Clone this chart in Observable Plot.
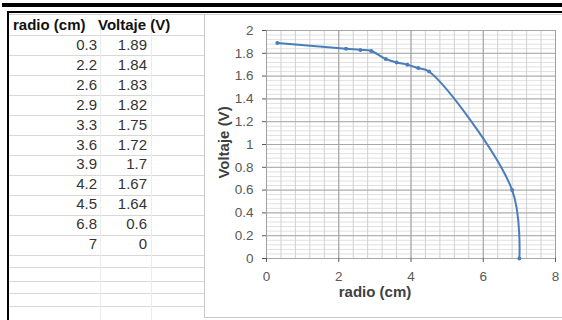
<!DOCTYPE html>
<html><head><meta charset="utf-8">
<script src="https://cdn.jsdelivr.net/npm/d3@7"></script>
<script src="https://cdn.jsdelivr.net/npm/@observablehq/plot@0.6"></script>
<style>
html,body{margin:0;padding:0;background:#fff;}
#page{position:relative;width:562px;height:320px;overflow:hidden;font-family:Arial,"Liberation Sans",sans-serif;background:#fff;}
.abs{position:absolute;}
.hd{font-weight:bold;font-size:15px;color:#111;line-height:16px;white-space:nowrap;}
.num{font-size:15px;color:#333;text-align:right;width:60px;line-height:16px;}
</style></head>
<body><div id="page"></div>
<script>
const radio = [0.3, 2.2, 2.6, 2.9, 3.3, 3.6, 3.9, 4.2, 4.5, 6.8, 7];
const voltaje = [1.89, 1.84, 1.83, 1.82, 1.75, 1.72, 1.7, 1.67, 1.64, 0.6, 0];
const headers = ["radio (cm)", "Voltaje (V)"];
const xTicks = [0, 2, 4, 6, 8];
const yTicks = [0, 0.2, 0.4, 0.6, 0.8, 1, 1.2, 1.4, 1.6, 1.8, 2];
const xLabel = "radio (cm)";
const yLabel = "Voltaje (V)";

const page = document.getElementById("page");
function box(css, cls, text) {
  const d = document.createElement("div");
  d.className = "abs" + (cls ? " " + cls : "");
  d.style.cssText = css;
  if (text !== undefined) d.textContent = text;
  page.appendChild(d);
  return d;
}

// spreadsheet frame lines
box("left:2px;top:3px;width:560px;height:4px;background:#000;");
box("left:7px;top:11px;width:555px;height:2px;background:#000;");
box("left:7px;top:11px;width:2px;height:309px;background:#000;");
box("left:9px;top:14px;width:553px;height:1px;background:#d0d0d0;");

// row lines
const rowLines = [];
for (let i = 0; i <= 11; i++) rowLines.push(35 + 20 * i);
[267, 281, 293, 306].forEach(v => rowLines.push(v));
rowLines.forEach(y => box(`left:9px;top:${y}px;width:196px;height:1px;background:#d8d8d8;`));
[100, 151].forEach(x => box(`left:${x}px;top:15px;width:1px;height:305px;background:#ececec;`));

// header + values
box("left:13px;top:17px;", "hd", headers[0]);
box("left:98px;top:17px;", "hd", headers[1]);
radio.forEach((r, i) => {
  const cy = 45 + 19.9 * i;
  box(`left:${97 - 60}px;top:${cy - 8}px;`, "num", String(r));
  box(`left:${147 - 60}px;top:${cy - 8}px;`, "num", String(voltaje[i]));
});

// chart box
box("left:204px;top:15px;width:358px;height:302px;background:#fff;border-left:1px solid #c8c8c8;border-bottom:1px solid #c8c8c8;");

const data = radio.map((r, i) => ({radio: r, voltaje: voltaje[i]}));
const minorX = d3.range(0, 8.001, 0.4);
const minorY = d3.range(0, 2.0001, 0.04);

const chart = Plot.plot({
  width: 357, height: 302,
  marginLeft: 61, marginRight: 7, marginTop: 15, marginBottom: 59,
  style: {fontFamily: 'Arial, "Liberation Sans", sans-serif', fontSize: "13.5px", background: "transparent", color: "#595959", overflow: "visible"},
  x: {domain: [0, 8]},
  y: {domain: [0, 2]},
  marks: [
    Plot.ruleY(minorY, {stroke: "#e0e0e0"}),
    Plot.ruleX(minorX, {stroke: "#d0d0d0"}),
    Plot.ruleY(yTicks, {stroke: "#a8a8a8"}),
    Plot.ruleX(xTicks, {stroke: "#a0a0a0"}),
    Plot.axisY({ticks: yTicks, tickSize: 4, tickPadding: 9, tickFormat: d => String(d), label: null}),
    Plot.axisX({ticks: xTicks, tickSize: 4, tickPadding: 9, tickFormat: d => String(d), label: null}),
    Plot.line(data, {x: "radio", y: "voltaje", curve: "catmull-rom", stroke: "#4a7ebb", strokeWidth: 2}),
    Plot.dot(data, {x: "radio", y: "voltaje", r: 2, fill: "#4a7ebb"}),
    Plot.text([xLabel], {text: d => d, frameAnchor: "bottom", dx: -36, dy: 38, fontWeight: "bold", fontSize: 15, fill: "#404040"}),
    Plot.text([yLabel], {text: d => d, frameAnchor: "left", textAnchor: "middle", dx: -42, dy: -2, rotate: -90, fontWeight: "bold", fontSize: 15, fill: "#404040"})
  ]
});
chart.style.position = "absolute";
chart.style.left = "205px";
chart.style.top = "15px";
page.appendChild(chart);
</script>
</body></html>
